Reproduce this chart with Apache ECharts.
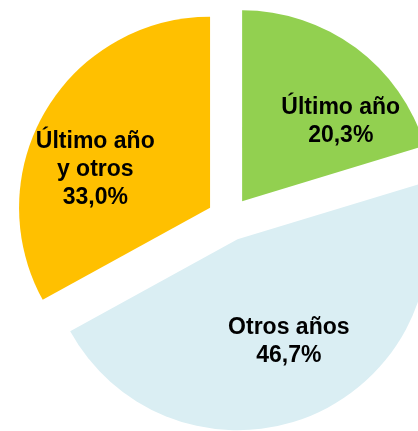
<!DOCTYPE html>
<html>
<head>
<meta charset="utf-8">
<script src="https://cdn.jsdelivr.net/npm/echarts@6/dist/echarts.min.js"></script>
<style>
  html, body { margin: 0; padding: 0; background: #fff; }
  #chart_pie { width: 418px; height: 431px; }
</style>
</head>
<body>
<div id="chart_pie"></div>
<script>
const names = ['Último año', 'Otros años', 'Último año\ny otros']
const values = [20.3, 46.7, 33.0]
const colors = ['#92D050', '#DAEEF3', '#FFC000']

// nudges for the inside labels so they sit where the original has them
const labelShift = [[40, -1], [13, 12], [-30, 12]]

let chartPie = echarts.init(document.getElementById('chart_pie'))
chartPie.setOption({
  animation: false,
  series: [
    {
      type: 'pie',
      center: [229, 219],
      radius: 191,
      startAngle: 90,
      clockwise: true,
      selectedMode: 'multiple',
      selectedOffset: 22,
      emphasis: { disabled: true },
      label: {
        show: true,
        position: 'inside',
        color: '#000',
        fontFamily: 'Liberation Sans, Arial, sans-serif',
        fontWeight: 'bold',
        fontSize: 23,
        lineHeight: 28,
        align: 'center',
        formatter: p => p.name + '\n' + p.value.toFixed(1).replace('.', ',') + '%'
      },
      labelLine: { show: false },
      labelLayout: p => ({ dx: labelShift[p.dataIndex][0], dy: labelShift[p.dataIndex][1] }),
      data: names.map((n, i) => ({
        name: n,
        value: values[i],
        selected: true,
        itemStyle: { color: colors[i] }
      }))
    }
  ]
})
</script>
</body>
</html>
